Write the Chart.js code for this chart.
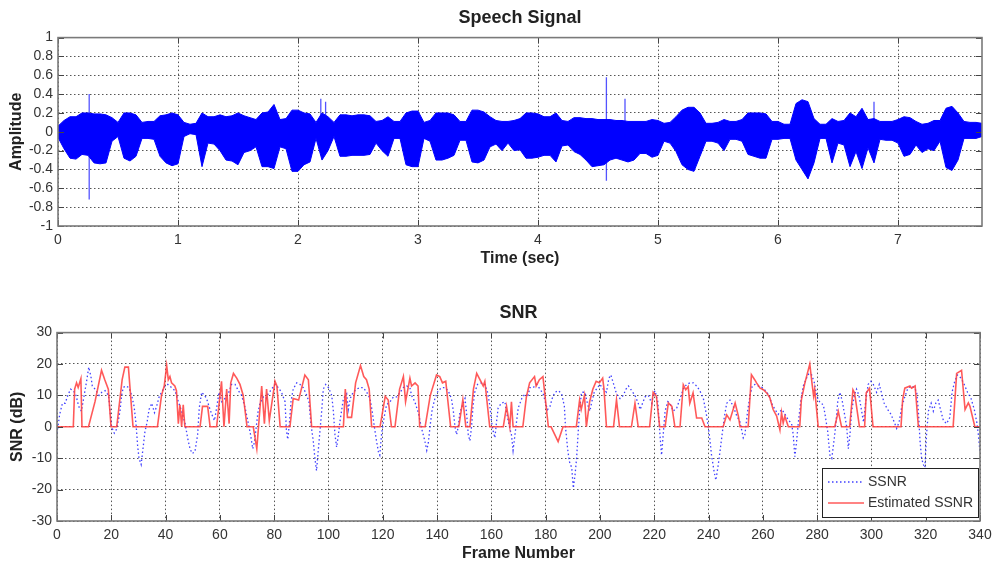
<!DOCTYPE html>
<html>
<head>
<meta charset="utf-8">
<title>Speech Signal and SNR</title>
<script src="https://cdn.jsdelivr.net/npm/chart.js@4.4.0/dist/chart.umd.min.js"></script>
<style>
  body { margin: 0; background: #fff; }
  canvas { position: absolute; left: 0; }
  #speech { top: 0; }
  #snr { top: 280px; }
</style>
</head>
<body>
<canvas id="speech" width="993" height="280"></canvas>
<canvas id="snr" width="993" height="284"></canvas>
<script>
// ---- speech signal: envelope every 0.05 s ----
var timeSec = [
  0, 0.05, 0.1, 0.15, 0.2, 0.25, 0.3, 0.35, 0.4, 0.45,
  0.5, 0.55, 0.6, 0.65, 0.7, 0.75, 0.8, 0.85, 0.9, 0.95,
  1, 1.05, 1.1, 1.15, 1.2, 1.25, 1.3, 1.35, 1.4, 1.45,
  1.5, 1.55, 1.6, 1.65, 1.7, 1.75, 1.8, 1.85, 1.9, 1.95,
  2, 2.05, 2.1, 2.15, 2.2, 2.25, 2.3, 2.35, 2.4, 2.45,
  2.5, 2.55, 2.6, 2.65, 2.7, 2.75, 2.8, 2.85, 2.9, 2.95,
  3, 3.05, 3.1, 3.15, 3.2, 3.25, 3.3, 3.35, 3.4, 3.45,
  3.5, 3.55, 3.6, 3.65, 3.7, 3.75, 3.8, 3.85, 3.9, 3.95,
  4, 4.05, 4.1, 4.15, 4.2, 4.25, 4.3, 4.35, 4.4, 4.45,
  4.5, 4.55, 4.6, 4.65, 4.7, 4.75, 4.8, 4.85, 4.9, 4.95,
  5, 5.05, 5.1, 5.15, 5.2, 5.25, 5.3, 5.35, 5.4, 5.45,
  5.5, 5.55, 5.6, 5.65, 5.7, 5.75, 5.8, 5.85, 5.9, 5.95,
  6, 6.05, 6.1, 6.15, 6.2, 6.25, 6.3, 6.35, 6.4, 6.45,
  6.5, 6.55, 6.6, 6.65, 6.7, 6.75, 6.8, 6.85, 6.9, 6.95,
  7, 7.05, 7.1, 7.15, 7.2, 7.25, 7.3, 7.35, 7.4, 7.45,
  7.5, 7.55, 7.6, 7.65, 7.7
];
var ampUpper = [
  .06, .12, .16, .16, .2, .2, .19, .19, .18, .15,
  .1, .2, .2, .18, .1, .11, .11, .17, .18, .2,
  .18, .1, .08, .09, .2, .16, .16, .18, .16, .17,
  .2, .17, .15, .13, .2, .21, .29, .13, .14, .23,
  .23, .2, .19, .1, .2, .16, .1, .18, .18, .17,
  .18, .18, .17, .11, .12, .16, .11, .11, .2, .22,
  .22, .1, .12, .2, .2, .2, .18, .11, .11, .23,
  .23, .21, .16, .12, .11, .11, .12, .14, .2, .2,
  .19, .16, .16, .2, .12, .11, .15, .15, .14, .14,
  .13, .13, .13, .12, .12, .11, .11, .11, .11, .13,
  .12, .09, .1, .16, .23, .26, .26, .2, .09, .09,
  .1, .13, .11, .11, .13, .2, .2, .2, .19, .11,
  .11, .08, .08, .3, .34, .32, .14, .08, .08, .14,
  .11, .12, .2, .16, .25, .13, .14, .11, .11, .11,
  .13, .16, .15, .11, .08, .09, .12, .12, .25, .27,
  .2, .11, .1, .1, .09
];
var ampLower = [
  -.06, -.18, -.28, -.29, -.24, -.25, -.33, -.34, -.33, -.1,
  -.05, -.28, -.31, -.26, -.07, -.07, -.08, -.26, -.33, -.36,
  -.34, -.05, -.02, -.03, -.37, -.12, -.13, -.2, -.3, -.31,
  -.35, -.22, -.2, -.16, -.37, -.37, -.39, -.16, -.18, -.42,
  -.42, -.35, -.32, -.07, -.3, -.2, -.05, -.26, -.26, -.25,
  -.25, -.25, -.24, -.12, -.2, -.26, -.07, -.07, -.35, -.37,
  -.37, -.07, -.1, -.3, -.3, -.28, -.25, -.09, -.09, -.32,
  -.33, -.3, -.16, -.13, -.2, -.12, -.2, -.19, -.28, -.28,
  -.27, -.25, -.25, -.32, -.15, -.14, -.21, -.24, -.3, -.37,
  -.36, -.35, -.3, -.28, -.3, -.32, -.3, -.23, -.23, -.27,
  -.25, -.1, -.12, -.21, -.35, -.4, -.42, -.26, -.1, -.1,
  -.12, -.2, -.08, -.08, -.1, -.24, -.26, -.28, -.28, -.08,
  -.08, -.07, -.07, -.3, -.4, -.5, -.33, -.07, -.07, -.33,
  -.12, -.14, -.37, -.21, -.39, -.17, -.33, -.08, -.09, -.09,
  -.12, -.26, -.24, -.14, -.22, -.18, -.2, -.1, -.38, -.41,
  -.3, -.07, -.07, -.07, -.05
];
// isolated clicks in the recording
var spikeTimes = [0.26, 2.19, 2.23, 4.57, 4.725, 6.8];
var spikeLow   = [-0.72, -0.05, -0.05, -0.52, -0.1, -0.1];
var spikeHigh  = [0.4, 0.35, 0.32, 0.58, 0.35, 0.32];

// ---- SNR per frame ----
var ssnrFrames = [
  0, 1, 2, 3, 4, 5, 6, 7, 8, 9,
  10, 11, 11.7, 12.5, 13, 14, 15.5, 16.5, 17.7, 19,
  19.5, 20.1, 21.1, 21.8, 22.6, 23.2, 23.8, 24.4, 25.3, 26.5,
  27.5, 28.4, 29.1, 29.7, 30.2, 31, 31.8, 32.4, 33.2, 33.9,
  34.9, 35.9, 36.7, 37.6, 38.5, 39.8, 40.8, 42.2, 43.5, 44.7,
  45.9, 47.2, 48.1, 49, 49.8, 50.8, 51.8, 52.4, 53.3, 54.3,
  55.1, 56, 57, 58, 58.8, 59.7, 60.7, 61.9, 63.1, 64.3,
  65.6, 66.8, 68, 69.3, 70.5, 71.3, 72.1, 72.7, 73.4, 74,
  74.8, 76, 77, 77.8, 79.1, 80.3, 81.5, 82.7, 84, 84.5,
  85, 85.6, 86.2, 87, 88.3, 89.5, 90.7, 92, 92.8, 93.6,
  94.4, 95, 95.6, 96.2, 96.8, 97.5, 98.1, 99, 100, 101.2,
  101.8, 102.4, 103, 103.6, 104.2, 104.9, 105.5, 106.7, 107.3, 108,
  109.1, 110.4, 111.6, 112.8, 114.1, 115.3, 116.1, 116.9, 117.7, 118.4,
  118.9, 119.6, 120.6, 121.4, 122.7, 123.9, 125.1, 126.4, 127.6, 128.8,
  130, 130.6, 131.8, 133.1, 134.3, 135.5, 136.2, 136.8, 137.4, 138.2,
  139.2, 140.4, 141.7, 142.9, 144.1, 145.3, 146, 146.6, 147.2, 147.8,
  148.4, 149.2, 150.3, 150.9, 151.5, 152.1, 152.7, 153.3, 153.9, 154.9,
  156.4, 157.6, 158.6, 159.4, 160.1, 160.7, 161.3, 161.9, 162.5, 163.7,
  165, 165.6, 166.8, 167.4, 168, 168.7, 169.9, 171.2, 172.4, 173.4,
  174.2, 175.4, 176.7, 177.9, 179.1, 180, 180.7, 181.6, 182.4, 183.4,
  184.7, 185.9, 186.9, 187.3, 188.1, 188.7, 189.6, 190.2, 190.8, 191.4,
  192, 192.6, 193.2, 194.5, 195.5, 196.3, 197, 197.9, 198.7, 200,
  201.2, 202.4, 203.3, 204, 204.9, 206.1, 207.4, 208.6, 209.6, 210.5,
  211.7, 212.9, 214.1, 214.8, 215.7, 216.6, 217.8, 219.1, 219.7, 220.3,
  221.3, 222.1, 222.7, 223.3, 224, 225, 225.8, 227, 228.3, 229.5,
  230.7, 231.9, 233.2, 234.4, 235.6, 236.8, 238.1, 239.3, 240.3, 241.1,
  242.1, 242.7, 243.6, 244.2, 245, 245.8, 246.7, 247.9, 249.1, 250.4,
  251.6, 252.8, 253.4, 254.4, 255.3, 256.1, 257.1, 258.3, 259.8, 261,
  262.3, 263.2, 264.5, 265.7, 266.9, 267.9, 268.8, 269.6, 270.6, 271.2,
  271.8, 272.4, 273.1, 274.1, 274.9, 276.1, 277, 278, 279, 279.6,
  280.4, 281.4, 282.3, 282.9, 283.9, 284.7, 285.4, 286, 286.8, 287.6,
  288.4, 289.3, 290, 290.9, 291.5, 292.1, 292.7, 293.7, 294.5, 295.4,
  296.4, 297.1, 297.9, 298.8, 299.8, 300.7, 301.9, 302.9, 303.8, 304.7,
  306, 307.2, 308.4, 309.3, 310.2, 311.1, 312.1, 313.3, 314.6, 315.8,
  316.7, 317.3, 317.9, 318.5, 319.1, 319.7, 320.3, 321, 322, 322.8,
  323.7, 324.6, 325.6, 326.5, 327.7, 328.9, 329.7, 330.7, 331.7, 333,
  334.2, 335.4, 336.7, 337.9, 338.8, 339.4, 340
];
var ssnrDb = [
  -2, 4, 7.5, 7.5, 10, 12, 11.5, 10, 6.5, 5,
  10, 15, 19, 16, 13, 12, 10, 11, 11.5, 10,
  5.5, 0, -2, -1, 2, 5, 10, 12.5, 13, 12.5,
  10, 6.5, 1, -6, -10, -12, -6, -1.5, 1.5, 5.5,
  7.5, 4.5, 6.5, 9.5, 11, 13, 13.5, 12.5, 11.5, 8,
  5, 1, -3.5, -7, -8.5, -8, -2.5, 6, 11, 10,
  9, 6.5, 4, 2, 6, 11, 8, 9, 10.5, 13.5,
  13.5, 11.5, 10, 6, 1, -2.5, -7, -5, 0, 4.5,
  7.5, 9.5, 9, 10.5, 12, 13.5, 12.5, 11, 8, -1,
  -4, 1, 8, 12, 14, 13.5, 12.5, 10, 8, 0.5,
  -4.5, -10, -14, -8, -2, 5, 12, 13.5, 12.5, 10,
  5, -2.5, -6.5, -3, 1.5, 5.5, 9, 10.5, 5.5, 9,
  11, 12, 12.5, 12.5, 11, 9, 5, 0, -4.5, -8,
  -9, -2, 3.5, 7, 8, 9.5, 9.5, 11, 12.5, 13,
  12.5, 10, 8, 4.5, -0.5, -4.5, -7.5, -5, 0, 5.5,
  9, 11.5, 12.5, 12.5, 11.5, 9, 5, 0, -2.5, 0,
  4.5, 6.5, 9, 4, -2.5, -4.5, 0, 7, 11, 13.5,
  14, 13.5, 11, 7, 1.5, -1.5, -3.5, 1.5, 6, 7.5,
  8, 4.5, -0.5, -2.5, -7.5, -2.5, 6, 9, 10.5, 9.5,
  12.5, 12.5, 13.5, 12, 10.5, 7.5, 5.5, 6.5, 9, 11,
  11.5, 10.5, 6.5, 0, -7, -11, -13, -19.5, -15.5, -10,
  -1.5, 6, 11, 11, 7, 5, 8, 11, 12, 13.5,
  12, 11, 15.5, 16.5, 14, 10.5, 9, 10, 12, 13,
  11.5, 10, 7.5, 5.5, 7.5, 9.5, 10, 7.5, 10.5, 11.5,
  8, -2.5, -9, -2.5, 5, 8, 7.5, 5, 6, 9,
  12, 13.5, 14, 14, 13, 11.5, 9, 3.5, -2.5, -9,
  -14.5, -17, -12, -8, -2.5, 3, 7.5, 8.5, 6.5, 3.5,
  1.5, -3.5, -2.5, 5, 10, 13, 13.5, 13, 12.5, 11.5,
  10, 7.5, 5.5, 4, 5.5, 4.5, 3, 2, 1, -2.5,
  -9.5, -5, 1.5, 9, 13, 15.5, 17, 16.5, 14, 11,
  8.5, 7.5, 7, 4, -1.5, -9, -10, -6, 0, 8,
  11, 8, 4.5, 0, -7, -2.5, 5, 10, 12, 10,
  5, 1.5, 8, 13.5, 14.5, 13.5, 11, 13.5, 10.5, 7.5,
  5.5, 4, 1.5, -0.5, 1.5, 6, 9, 12, 13, 12.5,
  11, 5, -4.5, -10, -12, -13, -2.5, 5, 7.5, 5,
  7.5, 8.5, 5, 2, 1, 3, 11, 14.5, 16.5, 15.5,
  13.5, 11, 9, 5.5, 1.5, -2.5, -8
];
var estFrames = [
  0, 6, 6.5, 7.2, 7.8, 8.8, 9.2, 11.6, 14, 16.4,
  17.6, 18.9, 19.9, 22, 24, 25, 26.3, 28, 37, 38.5,
  39.5, 40.4, 41, 41.6, 42.2, 43.4, 44, 44.7, 45.3, 45.9,
  46.5, 47.1, 52.7, 53.6, 55.5, 56.4, 58.8, 60.6, 61.5, 62.5,
  63.4, 64, 65, 66.2, 67.4, 68.6, 70, 72.3, 73.6, 75.4,
  76.4, 77.2, 78.2, 80.3, 81, 82.2, 85.8, 87, 89, 91.3,
  92.6, 93.8, 105.5, 106.2, 107, 108.5, 110, 111.8, 113, 114,
  115, 115.9, 119, 120.9, 122, 123.2, 124.5, 126.2, 127.6, 128.4,
  130, 130.6, 131.9, 133, 133.6, 135.6, 137.5, 138.2, 139.8, 141,
  142, 143.2, 145, 148, 149.5, 150.6, 152.1, 153.4, 154.6, 155.8,
  157, 157.6, 159.4, 164.4, 165.6, 166.8, 167.4, 168, 171.6, 172.9,
  174.1, 175.9, 176.5, 177.7, 179, 181, 182, 184.6, 186.4, 191.3,
  192.5, 193.1, 194.3, 195, 196.2, 197.4, 198.6, 199.8, 201, 201.5,
  202.4, 205, 206.1, 207.2, 211.6, 212.9, 214.1, 218.3, 219.6, 220.8,
  222, 224, 225.2, 226.5, 227.6, 229.5, 230.7, 231.6, 232.5, 233.1,
  234.3, 235.6, 237.5, 238.7, 245.4, 246.7, 247.9, 249.8, 251, 251.6,
  254.6, 255.8, 257, 257.7, 259, 260.2, 261.4, 262.6, 263.8, 265.1,
  265.7, 266.3, 266.9, 267.5, 268.1, 269.4, 273.6, 274.2, 275.5, 277.3,
  278.1, 278.7, 279.1, 280.4, 286.5, 287.8, 289, 292, 293.2, 293.8,
  295.6, 297.5, 298.1, 299.3, 300.6, 310.9, 311.5, 312.3, 314.2, 314.8,
  316.1, 317.3, 330.1, 331.4, 333.2, 334.5, 335.7, 336.3, 338.1, 340
];
var estDb = [
  0, 0, 12, 14, 12.5, 15.3, 0, 0, 8, 18,
  15, 12, 0, 0, 15, 19, 19, 0, 0, 10,
  13, 19.5, 15, 16, 14, 13, 11.5, 1, 7, 0,
  7, 0, 0, 6.5, 6.5, 0, 0, 14.5, 0, 12,
  1, 14, 17, 15.5, 13.5, 10, 0, 0, -7, 13,
  1, 12, 2, 14.5, 13, 0, 0, 9, 8.5, 16.5,
  15, 0, 0, 12, 3, 3, 14, 19.5, 16, 15,
  12, 0, 0, 9.7, 8.5, 0, 0, 12, 16, 8,
  15.5, 13, 14, 13, 0, 0, 10, 12, 16.5, 16,
  14, 14.5, 0, 0, 8.6, 0, 0, 12, 17, 15,
  13, 14.5, 0, 0, 6.5, 0, 8, 0, 0, 9.5,
  14, 16, 13, 15, 16, 0, 0, -4.7, 0, 0,
  8.5, 5.5, 10, 0, 8, 12, 14.5, 14, 15.5, 12,
  0, 0, 8.6, 0, 0, 7.5, 0, 0, 11, 9.7,
  0, 0, 7.6, 6.5, 0, 0, 13.4, 11.8, 12.8, 7.5,
  10.8, 2.8, 2.8, 0, 0, 3.8, 2.2, 7.6, 3.4, 0,
  0, 16.6, 15, 14, 12.3, 11.8, 10.8, 9.2, 5.5, 3.4,
  1.2, -1, 4.5, 1.2, 3.4, 0, 0, 8.6, 14, 20,
  14, 9.8, 12, 0, 0, 4.9, 0, 0, 11.8, 10.8,
  0, 0, 10.8, 12.3, 0, 0, 8.6, 12.3, 13, 12.3,
  13, 0, 0, 17, 18, 5.5, 7.6, 6.5, 0, 0
];

Chart.defaults.font.family = "'Liberation Sans', Arial, sans-serif";
Chart.defaults.color = '#333';

function pts(xs, ys) {
  return xs.map(function (x, i) { return { x: x, y: ys[i] }; });
}

var spikePts = [];
spikeTimes.forEach(function (t, i) {
  spikePts.push({ x: t, y: spikeLow[i] }, { x: t, y: spikeHigh[i] }, { x: t, y: null });
});

// MATLAB-like frame: grey box with small inward tick marks
var matlabBox = {
  id: 'matlabBox',
  afterDatasetsDraw: function (chart) {
    var ctx = chart.ctx, a = chart.chartArea, sx = chart.scales.x, sy = chart.scales.y;
    ctx.save();
    ctx.strokeStyle = '#444';
    ctx.lineWidth = 1;
    ctx.beginPath();
    sx.ticks.forEach(function (t) {
      var p = Math.round(sx.getPixelForValue(t.value)) + 0.5;
      ctx.moveTo(p, a.bottom); ctx.lineTo(p, a.bottom - 6);
      ctx.moveTo(p, a.top); ctx.lineTo(p, a.top + 6);
    });
    sy.ticks.forEach(function (t) {
      var p = Math.round(sy.getPixelForValue(t.value)) + 0.5;
      ctx.moveTo(a.left, p); ctx.lineTo(a.left + 6, p);
      ctx.moveTo(a.right, p); ctx.lineTo(a.right - 6, p);
    });
    ctx.stroke();
    ctx.strokeStyle = '#7a7a7a';
    ctx.lineWidth = 1.6;
    ctx.strokeRect(a.left, a.top, a.right - a.left, a.bottom - a.top);
    ctx.restore();
  }
};

// boxed legend in the lower right corner of the SNR axes
var boxLegend = {
  id: 'boxLegend',
  afterDraw: function (chart) {
    var ctx = chart.ctx, a = chart.chartArea;
    var w = 156, h = 49, x = a.right - w - 2, y = a.bottom - h - 4;
    ctx.save();
    ctx.fillStyle = '#fff';
    ctx.fillRect(x, y, w, h);
    ctx.strokeStyle = '#222';
    ctx.lineWidth = 1;
    ctx.strokeRect(x + 0.5, y + 0.5, w, h);
    ctx.font = "14px 'Liberation Sans', Arial, sans-serif";
    ctx.textBaseline = 'middle';
    chart.data.datasets.forEach(function (ds, i) {
      var ly = y + 14 + i * 21;
      ctx.strokeStyle = ds.borderColor;
      ctx.lineWidth = ds.borderWidth;
      ctx.setLineDash(ds.borderDash || []);
      ctx.beginPath();
      ctx.moveTo(x + 6, ly); ctx.lineTo(x + 42, ly);
      ctx.stroke();
      ctx.setLineDash([]);
      ctx.fillStyle = '#333';
      ctx.fillText(ds.label, x + 46, ly);
    });
    ctx.restore();
  }
};

function gridOpts() {
  return { color: '#555', lineWidth: 1, drawTicks: false };
}
var dotted = { display: false, dash: [1.5, 2.5] };
function plainNum(v) { return String(Math.round(v * 10) / 10); }
function noSidePad(s) { s.height = 42; s.paddingLeft = 0; s.paddingRight = 0; }

new Chart(document.getElementById('speech'), {
  type: 'line',
  data: {
    datasets: [
      { data: pts(timeSec, ampUpper), borderColor: '#0000ff', borderWidth: 1, pointRadius: 0, fill: false },
      { data: pts(timeSec, ampLower), borderColor: '#0000ff', borderWidth: 1, pointRadius: 0, fill: '-1', backgroundColor: '#0000ff' },
      { data: spikePts, borderColor: 'rgba(40,40,255,0.8)', borderWidth: 1.3, pointRadius: 0, spanGaps: false, fill: false }
    ]
  },
  options: {
    responsive: false,
    animation: false,
    layout: { padding: { left: 0, right: 11, top: 0, bottom: 12 } },
    plugins: {
      legend: { display: false },
      tooltip: { enabled: false },
      title: {
        display: true, text: 'Speech Signal', fullSize: false, color: '#222',
        font: { size: 18, weight: 'bold' }, padding: { top: 7, bottom: 9 }
      }
    },
    scales: {
      x: {
        type: 'linear', min: 0, max: 7.7,
        ticks: { stepSize: 1, includeBounds: false, padding: 6, maxRotation: 0, autoSkip: false, font: { size: 14 }, callback: plainNum },
        grid: gridOpts(), border: dotted,
        title: { display: true, text: 'Time (sec)', color: '#222', font: { size: 16, weight: 'bold' }, padding: { top: 0, bottom: 0 } },
        afterFit: noSidePad
      },
      y: {
        min: -1, max: 1,
        ticks: { stepSize: 0.2, padding: 5, autoSkip: false, font: { size: 14 }, callback: plainNum },
        grid: gridOpts(), border: dotted,
        title: { display: true, text: 'Amplitude', color: '#222', font: { size: 16, weight: 'bold' }, padding: { top: 7, bottom: 0 } },
        afterFit: function (s) { s.width = 58; }
      }
    }
  },
  plugins: [matlabBox]
});

new Chart(document.getElementById('snr'), {
  type: 'line',
  data: {
    datasets: [
      { label: 'SSNR', data: pts(ssnrFrames, ssnrDb), order: 2, borderColor: 'rgba(30,30,255,0.85)', borderWidth: 1.3, borderDash: [1.5, 2.5], pointRadius: 0, fill: false },
      { label: 'Estimated SSNR', data: pts(estFrames, estDb), order: 1, borderColor: 'rgba(255,60,60,0.85)', borderWidth: 1.6, pointRadius: 0, fill: false }
    ]
  },
  options: {
    responsive: false,
    animation: false,
    layout: { padding: { left: 0, right: 13, top: 0, bottom: 1 } },
    plugins: {
      legend: { display: false },
      tooltip: { enabled: false },
      title: {
        display: true, text: 'SNR', fullSize: false, color: '#222',
        font: { size: 18, weight: 'bold' }, padding: { top: 22, bottom: 9 }
      }
    },
    scales: {
      x: {
        type: 'linear', min: 0, max: 340,
        ticks: { stepSize: 20, padding: 6, maxRotation: 0, autoSkip: false, font: { size: 14 } },
        grid: gridOpts(), border: dotted,
        title: { display: true, text: 'Frame Number', color: '#222', font: { size: 16, weight: 'bold' }, padding: { top: 0, bottom: 0 } },
        afterFit: noSidePad
      },
      y: {
        min: -30, max: 30,
        ticks: { stepSize: 10, padding: 5, autoSkip: false, font: { size: 14 } },
        grid: gridOpts(), border: dotted,
        title: { display: true, text: 'SNR (dB)', color: '#222', font: { size: 16, weight: 'bold' }, padding: { top: 8, bottom: 0 } },
        afterFit: function (s) { s.width = 57; }
      }
    }
  },
  plugins: [matlabBox, boxLegend]
});
</script>
</body>
</html>
